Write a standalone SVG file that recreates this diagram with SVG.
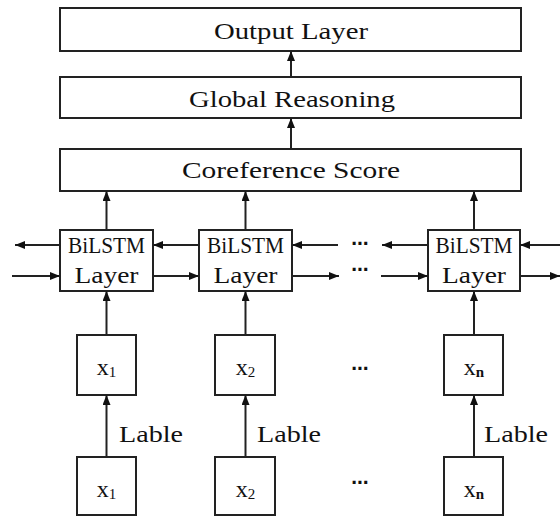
<svg xmlns="http://www.w3.org/2000/svg" width="560" height="518" viewBox="0 0 560 518">
  <style>
    .box { fill: #ffffff; stroke: #222222; stroke-width: 2; }
    .lbl { font-family: "Liberation Serif", "DejaVu Serif", serif; font-size: 24px; fill: #111111; text-anchor: middle; }
    .side { font-family: "Liberation Serif", "DejaVu Serif", serif; font-size: 24px; fill: #111111; }
    .sub { font-size: 15px; }
    .dots { font-family: "DejaVu Sans", sans-serif; font-size: 17px; font-weight: bold; fill: #111111; text-anchor: middle; }
    .conn line { stroke: #222222; stroke-width: 2; marker-end: url(#head); }
  </style>
  <defs>
    <marker id="head" viewBox="0 0 10 8" refX="10" refY="4" markerWidth="10" markerHeight="8" markerUnits="userSpaceOnUse" orient="auto">
      <path d="M0,0 L10,4 L0,8 z" fill="#111111"/>
    </marker>
  </defs>
  <rect width="560" height="518" fill="#ffffff"/>

  <!-- top stack -->
  <g id="output-layer">
    <rect class="box" x="60" y="8" width="461" height="43"/>
    <text class="lbl" x="291" y="39" textLength="154" lengthAdjust="spacingAndGlyphs">Output Layer</text>
  </g>
  <g id="global-reasoning">
    <rect class="box" x="60" y="77" width="461" height="41"/>
    <text class="lbl" x="292" y="107" textLength="206" lengthAdjust="spacingAndGlyphs">Global Reasoning</text>
  </g>
  <g id="coreference-score">
    <rect class="box" x="60" y="149" width="461" height="42"/>
    <text class="lbl" x="291" y="178" textLength="218" lengthAdjust="spacingAndGlyphs">Coreference Score</text>
  </g>

  <!-- BiLSTM cells -->
  <g id="bilstm-1">
    <rect class="box" x="60" y="230" width="93" height="61"/>
    <text class="lbl" x="106.5" y="253" textLength="77" lengthAdjust="spacingAndGlyphs">BiLSTM</text>
    <text class="lbl" x="106.5" y="283" textLength="64" lengthAdjust="spacingAndGlyphs">Layer</text>
  </g>
  <g id="bilstm-2">
    <rect class="box" x="199" y="230" width="93" height="61"/>
    <text class="lbl" x="245.5" y="253" textLength="77" lengthAdjust="spacingAndGlyphs">BiLSTM</text>
    <text class="lbl" x="245.5" y="283" textLength="64" lengthAdjust="spacingAndGlyphs">Layer</text>
  </g>
  <g id="bilstm-n">
    <rect class="box" x="428" y="230" width="92" height="61"/>
    <text class="lbl" x="474" y="253" textLength="77" lengthAdjust="spacingAndGlyphs">BiLSTM</text>
    <text class="lbl" x="474" y="283" textLength="64" lengthAdjust="spacingAndGlyphs">Layer</text>
  </g>

  <!-- token embeddings -->
  <g id="x1-embed">
    <rect class="box" x="77" y="335" width="59" height="60"/>
    <text class="lbl" x="106.5" y="375">x<tspan class="sub" dy="2">1</tspan></text>
  </g>
  <g id="x2-embed">
    <rect class="box" x="215" y="335" width="60" height="60"/>
    <text class="lbl" x="245.5" y="375">x<tspan class="sub" dy="2">2</tspan></text>
  </g>
  <g id="xn-embed">
    <rect class="box" x="444" y="335" width="59" height="60"/>
    <text class="lbl" x="474" y="375">x<tspan class="sub" dy="2" font-weight="bold">n</tspan></text>
  </g>

  <!-- input tokens -->
  <g id="x1-input">
    <rect class="box" x="77" y="457" width="59" height="58"/>
    <text class="lbl" x="106.5" y="497">x<tspan class="sub" dy="2">1</tspan></text>
  </g>
  <g id="x2-input">
    <rect class="box" x="215" y="457" width="60" height="58"/>
    <text class="lbl" x="245.5" y="497">x<tspan class="sub" dy="2">2</tspan></text>
  </g>
  <g id="xn-input">
    <rect class="box" x="444" y="457" width="59" height="58"/>
    <text class="lbl" x="474" y="497">x<tspan class="sub" dy="2" font-weight="bold">n</tspan></text>
  </g>

  <!-- elided positions -->
  <g id="ellipses">
    <text class="dots" x="360" y="249">⋯</text>
    <text class="dots" x="360" y="275">⋯</text>
    <text class="dots" x="360" y="374">⋯</text>
    <text class="dots" x="360" y="488">⋯</text>
  </g>

  <!-- edge labels -->
  <g id="edge-labels">
    <text class="side" x="119" y="442" textLength="64" lengthAdjust="spacingAndGlyphs">Lable</text>
    <text class="side" x="257" y="442" textLength="64" lengthAdjust="spacingAndGlyphs">Lable</text>
    <text class="side" x="484" y="442" textLength="64" lengthAdjust="spacingAndGlyphs">Lable</text>
  </g>

  <g id="connectors" class="conn">
    <!-- stack -->
    <line x1="291" y1="77" x2="291" y2="51"/>
    <line x1="291" y1="149" x2="291" y2="118"/>
    <!-- BiLSTM to coreference -->
    <line x1="106.5" y1="230" x2="106.5" y2="191"/>
    <line x1="245.5" y1="230" x2="245.5" y2="191"/>
    <line x1="474" y1="230" x2="474" y2="191"/>
    <!-- backward direction -->
    <line x1="60" y1="245" x2="15" y2="245"/>
    <line x1="199" y1="245" x2="153" y2="245"/>
    <line x1="338" y1="245" x2="292" y2="245"/>
    <line x1="428" y1="245" x2="382" y2="245"/>
    <line x1="560" y1="245" x2="520" y2="245"/>
    <!-- forward direction -->
    <line x1="12" y1="276" x2="60" y2="276"/>
    <line x1="153" y1="276" x2="199" y2="276"/>
    <line x1="292" y1="276" x2="339" y2="276"/>
    <line x1="381" y1="276" x2="428" y2="276"/>
    <line x1="520" y1="276" x2="560" y2="276"/>
    <!-- embeddings to BiLSTM -->
    <line x1="106.5" y1="335" x2="106.5" y2="291"/>
    <line x1="245.5" y1="335" x2="245.5" y2="291"/>
    <line x1="474" y1="335" x2="474" y2="291"/>
    <!-- inputs to embeddings -->
    <line x1="106.5" y1="457" x2="106.5" y2="395"/>
    <line x1="245.5" y1="457" x2="245.5" y2="395"/>
    <line x1="474" y1="457" x2="474" y2="395"/>
  </g>
</svg>
